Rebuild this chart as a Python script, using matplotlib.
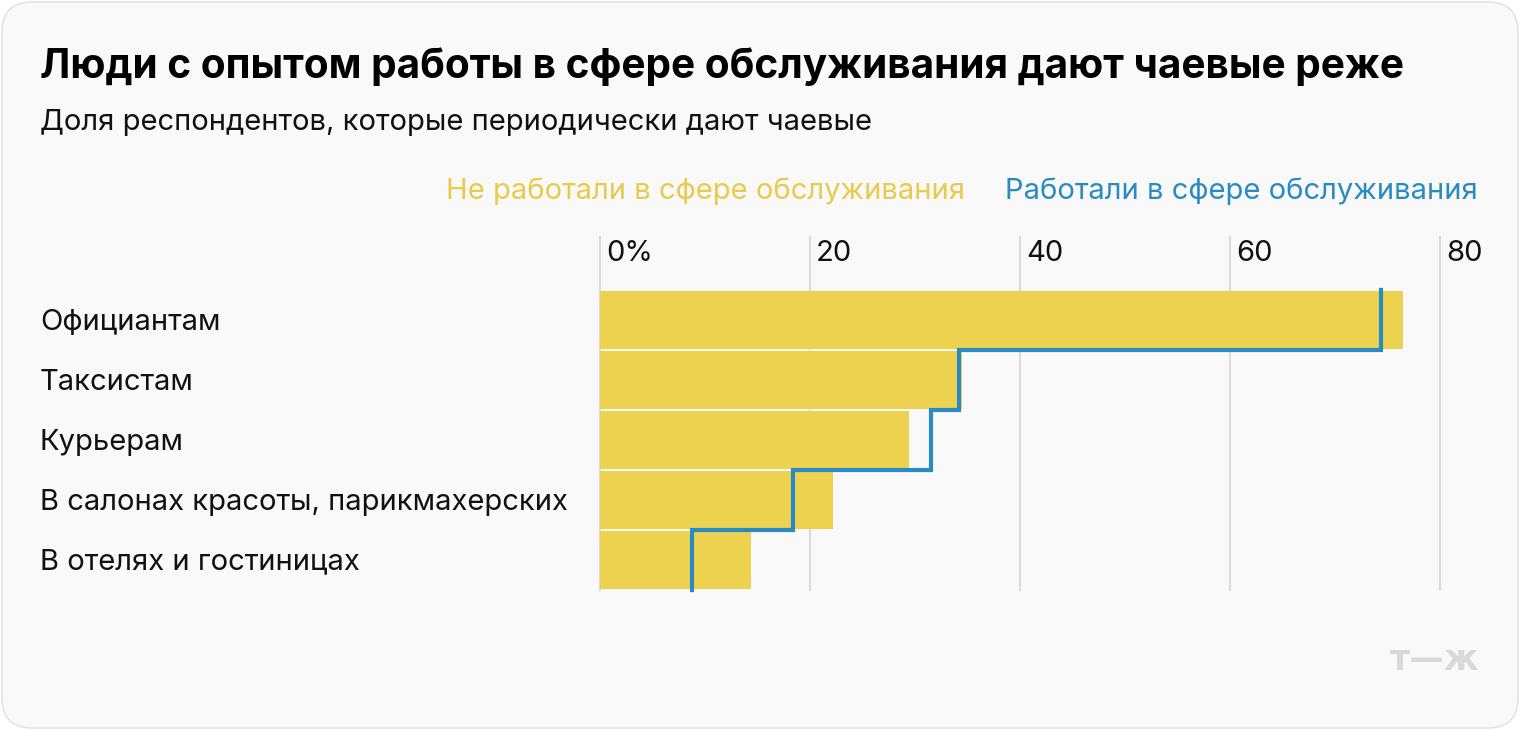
import numpy as np
import matplotlib
matplotlib.use("Agg")
import matplotlib.pyplot as plt
from matplotlib.patches import FancyBboxPatch

plt.rcParams['font.family'] = ['Inter', 'DejaVu Sans']

# data
categories = ["Официантам", "Таксистам", "Курьерам",
              "В салонах красоты, парикмахерских", "В отелях и гостиницах"]
not_worked = [76.5, 34.5, 29.4, 22.2, 14.4]
worked = [74.4, 34.2, 31.5, 18.4, 8.8]
ticks = [0, 20, 40, 60, 80]
tick_labels = ["0%", "20", "40", "60", "80"]

YELLOW = "#ecd24f"
BLUE = "#2a8bc2"
W, H = 1520, 730
FS = 21

fig = plt.figure(figsize=(W / 100, H / 100), dpi=100)
fig.patch.set_facecolor("white")

# card background
card = FancyBboxPatch((2, 2), W - 4, H - 4, boxstyle="round,pad=0,rounding_size=30",
                      facecolor="#f9f9f9", edgecolor="#e4e4e4", linewidth=1.2,
                      transform=None, zorder=-5)
fig.patches.append(card)

fig.text(40 / W, 1 - 67 / H, "Люди с опытом работы в сфере обслуживания дают чаевые реже",
         fontsize=29.2, fontweight="bold", va="center", ha="left", color="black")
fig.text(40 / W, 1 - 122 / H, "Доля респондентов, которые периодически дают чаевые",
         fontsize=FS, va="center", ha="left", color="#111111")

# legend
fig.text(1478 / W, 1 - 191 / H, "Работали в сфере обслуживания",
         fontsize=FS, va="center", ha="right", color=BLUE)
fig.text(965 / W, 1 - 191 / H, "Не работали в сфере обслуживания",
         fontsize=FS, va="center", ha="right", color="#e8cb4c")

# plotting area: x 600..1440 px, y 290..590 px
ax = fig.add_axes([600 / W, 1 - 590 / H, 840 / W, 300 / H], zorder=1)
ax.set_facecolor("none")
ax.set_xlim(0, 80)
y = np.arange(len(categories))
ax.set_ylim(len(categories) - 0.5, -0.5)

grid_top = (590 - 237) / 300
for t, lab in zip(ticks, tick_labels):
    ax.axvline(t, ymin=0, ymax=grid_top, color="#dcdcdc", lw=1.5, clip_on=False, zorder=0)
    ax.annotate(lab, xy=(t, grid_top), xycoords=("data", "axes fraction"),
                xytext=(4.5, -2), textcoords="offset points", ha="left", va="top",
                fontsize=FS, color="#111111", annotation_clip=False)

ax.barh(y, not_worked, height=0.965, color=YELLOW, zorder=1)

# stepped line for the "worked" series
xs = np.repeat(worked, 2)
ys = np.column_stack([y - 0.5, y + 0.5]).ravel()
ax.plot(xs, ys, color=BLUE, lw=3, solid_joinstyle="miter", zorder=3, clip_on=False)

for i, c in enumerate(categories):
    ax.annotate(c, xy=(40 / W, i), xycoords=(fig.transFigure, "data"),
                xytext=(0, -1.5), textcoords="offset points",
                ha="left", va="center", fontsize=FS, color="#111111",
                annotation_clip=False)

ax.set_xticks([])
ax.set_yticks([])
for s in ax.spines.values():
    s.set_visible(False)

# logo
fig.text(1479 / W, 1 - 660 / H, "т—ж", fontsize=25, fontweight="bold",
         family="DejaVu Sans", color="#d9d9d9", ha="right", va="center")

fig.savefig("out.png", dpi=100)
